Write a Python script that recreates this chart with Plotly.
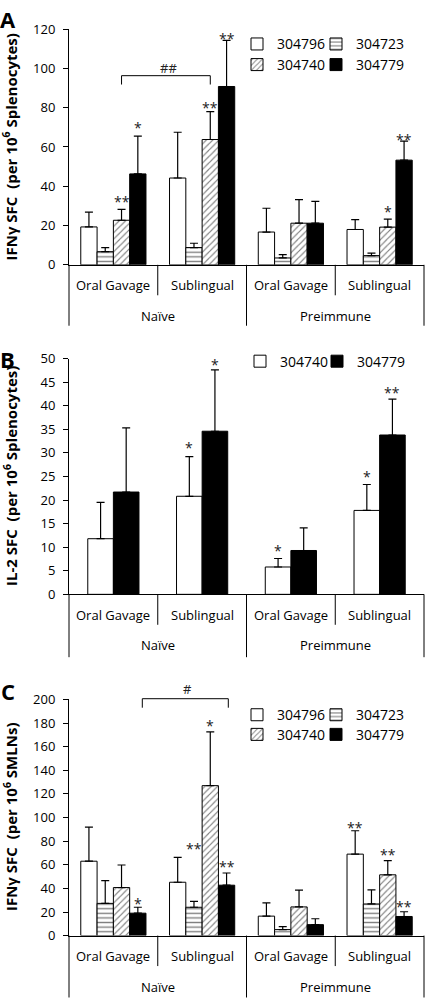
import plotly.graph_objects as go

W, H = 425, 1006
FONT = "Open Sans"

# ---------------- data ----------------
groups = ["Naïve", "Naïve", "Preimmune", "Preimmune"]
routes = ["Oral Gavage", "Sublingual", "Oral Gavage", "Sublingual"]
x_keys = [g + " | " + r for g, r in zip(groups, routes)]

# Panel A: IFNγ SFC per 10^6 splenocytes
a_series = ["304796", "304723", "304740", "304779"]
a_304796 = [19.3, 44.2, 16.7, 18.0]
a_304796_err = [7.5, 23.3, 12.1, 5.0]
a_304723 = [6.7, 8.8, 3.5, 4.7]
a_304723_err = [2.1, 2.2, 1.7, 1.3]
a_304740 = [22.7, 63.8, 21.2, 19.2]
a_304740_err = [5.5, 14.2, 12.0, 4.1]
a_304779 = [46.3, 90.8, 21.2, 53.3]
a_304779_err = [19.2, 23.5, 11.1, 9.7]

# Panel B: IL-2 SFC per 10^6 splenocytes
b_series = ["304740", "304779"]
b_304740 = [11.8, 20.8, 5.8, 17.8]
b_304740_err = [7.7, 8.4, 1.8, 5.5]
b_304779 = [21.7, 34.6, 9.3, 33.8]
b_304779_err = [13.6, 13.0, 4.8, 7.6]

# Panel C: IFNγ SFC per 10^6 SMLNs
c_series = ["304796", "304723", "304740", "304779"]
c_304796 = [63.0, 45.2, 16.5, 69.0]
c_304796_err = [28.8, 21.1, 11.2, 19.8]
c_304723 = [27.3, 24.0, 5.1, 26.8]
c_304723_err = [19.2, 5.0, 2.5, 12.0]
c_304740 = [40.7, 127.0, 24.3, 51.5]
c_304740_err = [19.1, 45.5, 14.2, 12.0]
c_304779 = [19.0, 42.7, 9.3, 16.2]
c_304779_err = [5.0, 10.3, 5.0, 4.0]

# significance marks: category index, series index, text, y position (data units)
a_star_cat = [0, 0, 1, 1, 3, 3]
a_star_series = [2, 3, 2, 3, 2, 3]
a_star_text = ["**", "*", "**", "**", "*", "**"]
a_star_y = [33.9, 71.6, 81.7, 117.2, 29.1, 65.6]

b_star_cat = [1, 1, 2, 3, 3]
b_star_series = [0, 1, 0, 0, 1]
b_star_text = ["*", "*", "*", "*", "**"]
b_star_y = [31.9, 49.6, 10.0, 25.7, 43.5]

c_star_cat = [0, 1, 1, 1, 3, 3, 3]
c_star_series = [3, 1, 2, 3, 0, 2, 3]
c_star_text = ["*", "**", "*", "**", "**", "**", "**"]
c_star_y = [30.2, 76.5, 180.7, 61.3, 94.6, 71.5, 27.3]

# comparison brackets: [x start, x end] (category scale), bar level, leg level, label
a_bracket_x = [0.092, 1.092]
a_bracket_y = [96.3, 91.8]
a_bracket_label = "##"
a_bracket_label_pos = [0.62, 100.3]
c_bracket_x = [0.326, 1.295]
c_bracket_y = [200.6, 193.0]
c_bracket_label = "#"
c_bracket_label_pos = [0.84, 208.5]

# ---------------- styling / layout constants ----------------
def P(px):
    return 1 - px / H

X0, X1 = 69, 424
panels = [
    dict(key="A", xa="x", ya="y", top=20.5, zero=260.5, ymax=120, dtick=20,
         title="IFNγ SFC\u00a0 (per 10<sup>6</sup> Splenocytes)",
         letter_y=10, depth=62, styles=["open", "hlines", "hatch", "solid"]),
    dict(key="B", xa="x2", ya="y2", top=356, zero=596, ymax=50, dtick=5,
         title="IL-2 SFC\u00a0 (per 10<sup>6</sup> Splenocytes)",
         letter_y=356, depth=64, styles=["open", "solid"]),
    dict(key="C", xa="x3", ya="y3", top=703, zero=943.5, ymax=200, dtick=20,
         title="IFNγ SFC\u00a0 (per 10<sup>6</sup> SMLNs)",
         letter_y=694, depth=63, styles=["open", "hlines", "hatch", "solid"]),
]

styles = {
    "open": dict(color="white", pattern=dict(shape="")),
    "hlines": dict(color="white", pattern=dict(shape="-", fgcolor="black", bgcolor="white",
                                               size=4.6, solidity=0.3)),
    "hatch": dict(color="white", pattern=dict(shape="/", fgcolor="black", bgcolor="white",
                                              size=4.5, solidity=0.25)),
    "solid": dict(color="black", pattern=dict(shape="")),
}

panel_data = [
    (a_series, [a_304796, a_304723, a_304740, a_304779],
     [a_304796_err, a_304723_err, a_304740_err, a_304779_err]),
    (b_series, [b_304740, b_304779], [b_304740_err, b_304779_err]),
    (c_series, [c_304796, c_304723, c_304740, c_304779],
     [c_304796_err, c_304723_err, c_304740_err, c_304779_err]),
]
stars = [
    (a_star_cat, a_star_series, a_star_text, a_star_y),
    (b_star_cat, b_star_series, b_star_text, b_star_y),
    (c_star_cat, c_star_series, c_star_text, c_star_y),
]

# legend entries positions (text start px, center y px)
legend_pos = [
    [(277, 36), (356, 36), (277, 57), (356, 57)],
    [(280, 359), (357, 359)],
    [(277, 719), (356, 719), (277, 739), (356, 739)],
]

fig = go.Figure()
layout = dict(width=W, height=H, margin=dict(l=0, r=0, t=0, b=0),
              paper_bgcolor="white", plot_bgcolor="white",
              barmode="overlay", font=dict(family=FONT, size=13, color="black"))
shapes, annotations = [], []
legend_n = 0

for pi, pan in enumerate(panels):
    series, vals, errs = panel_data[pi]
    n = len(series)
    bw = 16.3 / 88.75 if n == 4 else 25.6 / 88.75
    offsets = [-n / 2 * bw + k * bw for k in range(n)]
    for k, s in enumerate(series):
        legend_n += 1
        lid = "legend" if legend_n == 1 else f"legend{legend_n}"
        st = styles[pan["styles"][k]]
        fig.add_trace(go.Bar(
            x=x_keys, y=vals[k], name=s, width=bw, offset=offsets[k],
            xaxis=pan["xa"], yaxis=pan["ya"], legend=lid, showlegend=True,
            marker=dict(color=st["color"], line=dict(color="black", width=1),
                        pattern=st["pattern"]),
            error_y=dict(type="data", symmetric=False, array=errs[k],
                         arrayminus=[0] * len(errs[k]), color="black",
                         thickness=1.2, width=4),
        ))
        tx, ty = legend_pos[pi][k]
        layout[lid] = dict(x=(tx - 40) / W, y=P(ty), xanchor="left", yanchor="middle",
                           bgcolor="rgba(0,0,0,0)", borderwidth=0,
                           font=dict(family=FONT, size=14, color="black"),
                           orientation="h")
    xname = "xaxis" if pi == 0 else f"xaxis{pi + 1}"
    yname = "yaxis" if pi == 0 else f"yaxis{pi + 1}"
    layout[xname] = dict(domain=[X0 / W, X1 / W], anchor=pan["ya"], type="category",
                         categoryorder="array", categoryarray=x_keys, range=[-0.5, 3.5],
                         showticklabels=False, ticks="", showgrid=False, zeroline=False,
                         showline=True, linecolor="black", linewidth=1, fixedrange=True)
    layout[yname] = dict(domain=[P(pan["zero"]), P(pan["top"])], anchor=pan["xa"],
                         range=[0, pan["ymax"]], dtick=pan["dtick"], tick0=0,
                         ticks="outside", ticklen=5, tickcolor="black", tickwidth=1,
                         showline=True, linecolor="black", linewidth=1,
                         showgrid=False, zeroline=False, ticklabelstandoff=5,
                         fixedrange=True,
                         tickfont=dict(family=FONT, size=13, color="black"))

    z = pan["zero"]
    xd = pan["xa"] + " domain"
    # dividers and boundary ticks
    for fx in [0, 0.5, 1]:
        shapes.append(dict(type="line", xref=xd, yref="paper", x0=fx, x1=fx,
                           y0=P(z), y1=P(z + pan["depth"]),
                           line=dict(color="black", width=1)))
    for fx in [0.25, 0.75]:
        shapes.append(dict(type="line", xref=xd, yref="paper", x0=fx, x1=fx,
                           y0=P(z), y1=P(z + 31), line=dict(color="black", width=1)))
    # category labels
    for i, r in enumerate(routes):
        annotations.append(dict(x=i, y=P(z + 21), xref=pan["xa"], yref="paper", text=r,
                                showarrow=False, xanchor="center", yanchor="middle",
                                font=dict(family=FONT, size=13, color="black")))
    for gname, gx in [(groups[0], 0.5), (groups[2], 2.5)]:
        annotations.append(dict(x=gx, y=P(z + 52), xref=pan["xa"], yref="paper", text=gname,
                                showarrow=False, xanchor="center", yanchor="middle",
                                font=dict(family=FONT, size=13, color="black")))
    # axis title
    annotations.append(dict(x=10.5 / W, y=P((pan["top"] + z) / 2), xref="paper", yref="paper",
                            text=pan["title"], textangle=-90, showarrow=False,
                            xanchor="center", yanchor="middle",
                            font=dict(family=FONT, size=15, color="black", weight=700)))
    # panel letter
    annotations.append(dict(x=7.5 / W, y=P(pan["letter_y"]), xref="paper", yref="paper",
                            text=pan["key"], showarrow=False, xanchor="center",
                            yanchor="middle",
                            font=dict(family=FONT, size=22, color="black", weight=700)))
    # stars
    sc, ss, stx, sy = stars[pi]
    for c, s, t, y in zip(sc, ss, stx, sy):
        annotations.append(dict(x=c + offsets[s] + bw / 2, y=y, xref=pan["xa"], yref=pan["ya"],
                                text=t, showarrow=False, xanchor="center", yanchor="middle",
                                yshift=-3.5, font=dict(family=FONT, size=14, color="#222")))

# brackets
for (bx, by, lab, lpos, pi) in [(a_bracket_x, a_bracket_y, a_bracket_label, a_bracket_label_pos, 0),
                                (c_bracket_x, c_bracket_y, c_bracket_label, c_bracket_label_pos, 2)]:
    pan = panels[pi]
    xd, yd = pan["xa"] + " domain", pan["ya"] + " domain"
    fx = [(v + 0.5) / 4 for v in bx]
    fy = [v / pan["ymax"] for v in by]
    ln = dict(color="black", width=1)
    shapes.append(dict(type="line", xref=xd, yref=yd, x0=fx[0], x1=fx[1], y0=fy[0], y1=fy[0], line=ln))
    shapes.append(dict(type="line", xref=xd, yref=yd, x0=fx[0], x1=fx[0], y0=fy[0], y1=fy[1], line=ln))
    shapes.append(dict(type="line", xref=xd, yref=yd, x0=fx[1], x1=fx[1], y0=fy[0], y1=fy[1], line=ln))
    annotations.append(dict(x=(lpos[0] + 0.5) / 4, y=lpos[1] / pan["ymax"], xref=xd, yref=yd,
                            text=lab, showarrow=False, xanchor="center", yanchor="middle",
                            font=dict(family=FONT, size=13, color="#222")))

layout["shapes"] = shapes
layout["annotations"] = annotations
fig.update_layout(**layout)
fig.write_html(
    "out.html",
    config={"displayModeBar": False},
    post_script="document.body.style.margin='0';document.body.style.overflow='hidden';",
)
